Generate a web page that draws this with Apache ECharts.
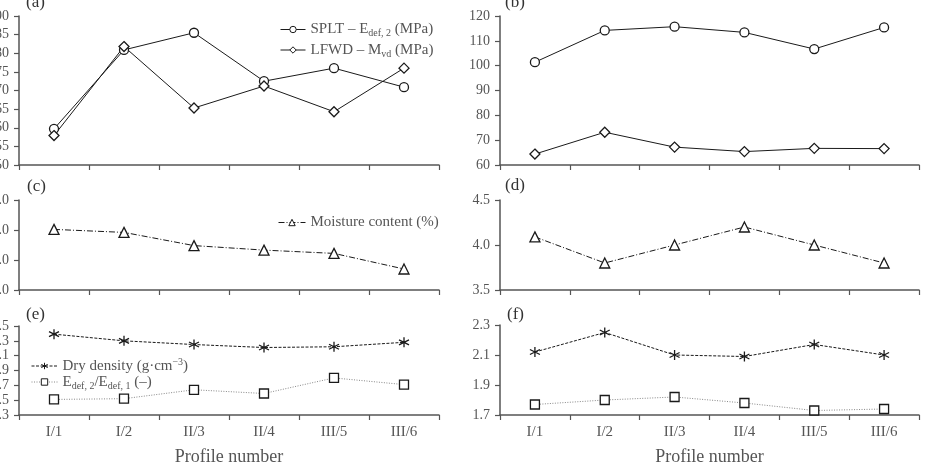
<!DOCTYPE html>
<html>
<head>
<meta charset="utf-8">
<script src="https://cdn.jsdelivr.net/npm/echarts@6/dist/echarts.min.js"></script>
<style>
  html, body { margin: 0; padding: 0; background: #fff; }
  #chart { width: 927px; height: 464px; }
</style>
</head>
<body>
<div id="chart"></div>
<script>
// profile categories
const profiles = ['I/1', 'I/2', 'II/3', 'II/4', 'III/5', 'III/6']

// (a) / (b) moduli, MPa
const spltA = [59.7, 80.9, 85.5, 72.5, 76.0, 70.9]
const lfwdA = [57.9, 81.8, 65.3, 71.2, 64.3, 76.0]
const spltB = [101.4, 114.2, 115.7, 113.4, 106.7, 115.4]
const lfwdB = [64.4, 73.2, 67.2, 65.4, 66.7, 66.6]

// (c) / (d) moisture content, %
const moistC = [7.02, 6.92, 6.48, 6.33, 6.22, 5.70]
const moistD = [4.09, 3.80, 4.00, 4.20, 4.00, 3.80]

// (e) / (f) dry density and Edef2/Edef1
const densE = [2.39, 2.30, 2.25, 2.21, 2.22, 2.28]
const ratioE = [1.51, 1.52, 1.64, 1.59, 1.80, 1.71]
const densF = [2.12, 2.25, 2.10, 2.09, 2.17, 2.10]
const ratioF = [1.77, 1.80, 1.82, 1.78, 1.73, 1.74]

// tick labels for the two lower panels
const ticksE = [1.3, 1.5, 1.7, 1.9, 2.1, 2.3, 2.5]
const ticksF = [1.7, 1.9, 2.1, 2.3]

const chart = echarts.init(document.getElementById('chart'))

const FONT = 'Liberation Serif'
const AXIS = '#555'
const TEXT = '#555'
const INK = '#1a1a1a'

const asterisk = 'path://M5,0L5,10M0.7,2.5L9.3,7.5M0.7,7.5L9.3,2.5'

const grids = [
  { left: 19, width: 420, top: 16, height: 149 },
  { left: 500, width: 419, top: 16, height: 149 },
  { left: 19, width: 420, top: 200, height: 90 },
  { left: 500, width: 419, top: 200, height: 90 },
  { left: 19, width: 420, top: 326, height: 89 },
  { left: 500, width: 419, top: 325, height: 90 }
].map(g => Object.assign(g, { outerBoundsMode: 'none', containLabel: false }))

function xAxis(i, showLabels) {
  return {
    type: 'category',
    gridIndex: i,
    data: profiles,
    boundaryGap: true,
    axisLine: { lineStyle: { color: AXIS, width: 1.5 } },
    axisTick: { show: true, length: 5, lineStyle: { color: AXIS, width: 1.2 } },
    axisLabel: { show: showLabels, color: TEXT, fontFamily: FONT, fontSize: 15, margin: 10 },
    name: showLabels ? 'Profile number' : '',
    nameLocation: 'middle',
    nameGap: 33,
    nameTextStyle: { color: TEXT, fontFamily: FONT, fontSize: 18 }
  }
}

function yAxis(i, min, max, interval, digits, custom) {
  const ax = {
    type: 'value',
    gridIndex: i,
    min: min,
    max: max,
    interval: interval,
    splitLine: { show: false },
    axisLine: { show: true, lineStyle: { color: AXIS, width: 1.5 } },
    axisTick: { show: true, length: 5, lineStyle: { color: AXIS, width: 1.2 } },
    axisLabel: {
      color: TEXT, fontFamily: FONT, fontSize: 14, margin: 10,
      formatter: v => v.toFixed(digits)
    }
  }
  if (custom) {
    delete ax.interval
    ax.axisTick.customValues = custom
    ax.axisLabel.customValues = custom
  }
  return ax
}

function line(name, i, data, symbol, size, lineType, color) {
  return {
    name: name,
    type: 'line',
    xAxisIndex: i,
    yAxisIndex: i,
    data: data,
    symbol: symbol,
    symbolSize: size,
    showAllSymbol: true,
    lineStyle: { color: color || INK, width: 1, type: lineType || 'solid' },
    itemStyle: { color: '#fff', borderColor: INK, borderWidth: 1.3 },
    emphasis: { disabled: true },
    z: 3
  }
}

const rich = {
  n: { fontFamily: FONT, fontSize: 15, color: TEXT, lineHeight: 18, verticalAlign: 'middle' },
  s: { fontFamily: FONT, fontSize: 10, color: TEXT, lineHeight: 10, verticalAlign: 'bottom' },
  p: { fontFamily: FONT, fontSize: 10, color: TEXT, lineHeight: 10, verticalAlign: 'top' }
}

const legendText = {
  'SPLT': '{n|SPLT – E}{s|def, 2}{n| (MPa)}',
  'LFWD': '{n|LFWD – M}{s|vd}{n| (MPa)}',
  'Moisture': '{n|Moisture content (%)}',
  'Dry density': '{n|Dry density (g·cm}{p|−3}{n|)}',
  'Ratio': '{n|E}{s|def, 2}{n|/E}{s|def, 1}{n| (–)}'
}

function legend(names, x, y, w, gap) {
  return {
    data: names, orient: 'vertical', left: x, top: y,
    itemWidth: w, itemHeight: 8, itemGap: gap,
    itemStyle: { borderWidth: 1 },
    lineStyle: { width: 1 },
    formatter: n => legendText[n], textStyle: { rich: rich }
  }
}

function panelLabel(txt, x, y) {
  return {
    type: 'text', left: x, top: y,
    style: { text: txt, fontFamily: FONT, fontSize: 17, fill: '#333' }
  }
}

const option = {
  animation: false,
  backgroundColor: '#fff',
  grid: grids,
  xAxis: [xAxis(0, false), xAxis(1, false), xAxis(2, false), xAxis(3, false), xAxis(4, true), xAxis(5, true)],
  yAxis: [
    yAxis(0, 50, 90, 5, 0),
    yAxis(1, 60, 120, 10, 0),
    yAxis(2, 5, 8, 1, 1),
    yAxis(3, 3.5, 4.5, 0.5, 1),
    yAxis(4, 1.3, 2.5, 0.2, 1, ticksE),
    yAxis(5, 1.7, 2.3, 0.2, 1, ticksF)
  ],
  legend: [
    legend(['SPLT', 'LFWD'], 275, 17, 25, 4),
    legend(['Moisture'], 273, 210, 27, 4),
    legend(['Dry density', 'Ratio'], 26, 352, 26, 1)
  ],
  graphic: [
    panelLabel('(a)', 26, -6),
    panelLabel('(b)', 505, -6),
    panelLabel('(c)', 27, 178),
    panelLabel('(d)', 505, 177),
    panelLabel('(e)', 26, 306),
    panelLabel('(f)', 507, 306)
  ],
  series: [
    line('SPLT', 0, spltA, 'circle', 9),
    line('LFWD', 0, lfwdA, 'diamond', 10),
    line('SPLT b', 1, spltB, 'circle', 9),
    line('LFWD b', 1, lfwdB, 'diamond', 10),
    line('Moisture', 2, moistC, 'triangle', 10, [6, 2, 1, 2]),
    line('Moisture d', 3, moistD, 'triangle', 10, [6, 2, 1, 2]),
    line('Dry density', 4, densE, asterisk, 10, [3, 1.5]),
    line('Ratio', 4, ratioE, 'rect', 9, [1, 1.5], '#888'),
    line('Dry density f', 5, densF, asterisk, 10, [3, 1.5]),
    line('Ratio f', 5, ratioF, 'rect', 9, [1, 1.5], '#888')
  ]
}

chart.setOption(option)
</script>
</body>
</html>
